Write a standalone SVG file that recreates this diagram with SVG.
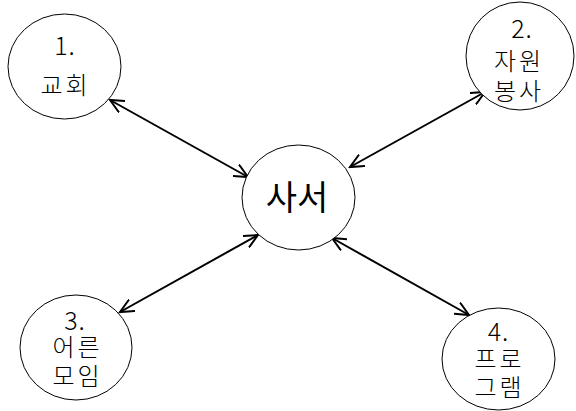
<svg xmlns="http://www.w3.org/2000/svg" width="576" height="411" viewBox="0 0 576 411">
<style>
.node ellipse{fill:#fff;stroke:#000;stroke-width:1}
.node text{font-family:"Noto Sans CJK KR","Noto Sans",sans-serif;font-size:24px;font-weight:300;fill:#000;text-anchor:middle;letter-spacing:3px}
.node text.num{font-size:25px;letter-spacing:1px}
.node text.big{font-size:34px;font-weight:400;letter-spacing:0}
.conn line{stroke:#000;stroke-width:2}
</style>
<defs>
<marker id="ah" viewBox="0 0 16 14" refX="14" refY="7" markerWidth="16" markerHeight="14" markerUnits="userSpaceOnUse" orient="auto-start-reverse">
<path d="M0,0.5 L14,7 L0,13.5" fill="none" stroke="#000" stroke-width="2"/>
</marker>
</defs>
<rect width="576" height="411" fill="#fff"/>
<g id="connectors" class="conn">
<line x1="110" y1="100" x2="248" y2="177" marker-start="url(#ah)" marker-end="url(#ah)"/>
<line x1="485" y1="92" x2="350" y2="167" marker-start="url(#ah)" marker-end="url(#ah)"/>
<line x1="120" y1="312" x2="258" y2="235" marker-start="url(#ah)" marker-end="url(#ah)"/>
<line x1="469" y1="315" x2="332" y2="238" marker-start="url(#ah)" marker-end="url(#ah)"/>
</g>
<g id="node-center" class="node">
<ellipse cx="298.5" cy="197.5" rx="56.5" ry="52.5"/>
<text class="big" x="297" y="210">사서</text>
</g>
<g id="node-1" class="node">
<ellipse cx="64.5" cy="66.5" rx="56.5" ry="52.5"/>
<text class="num" x="65" y="55">1.</text>
<text x="65.5" y="94">교회</text>
</g>
<g id="node-2" class="node">
<ellipse cx="520" cy="56" rx="54" ry="54"/>
<text class="num" x="522" y="38">2.</text>
<text x="519" y="70">자원</text>
<text x="519" y="100">봉사</text>
</g>
<g id="node-3" class="node">
<ellipse cx="76" cy="347.5" rx="56" ry="52.5"/>
<text class="num" x="75" y="330">3.</text>
<text x="77.5" y="356">어른</text>
<text x="77.5" y="385">모임</text>
</g>
<g id="node-4" class="node">
<ellipse cx="498.5" cy="359" rx="56.5" ry="51"/>
<text class="num" x="498.5" y="341">4.</text>
<text x="499.5" y="368">프로</text>
<text x="499.5" y="396">그램</text>
</g>
</svg>
